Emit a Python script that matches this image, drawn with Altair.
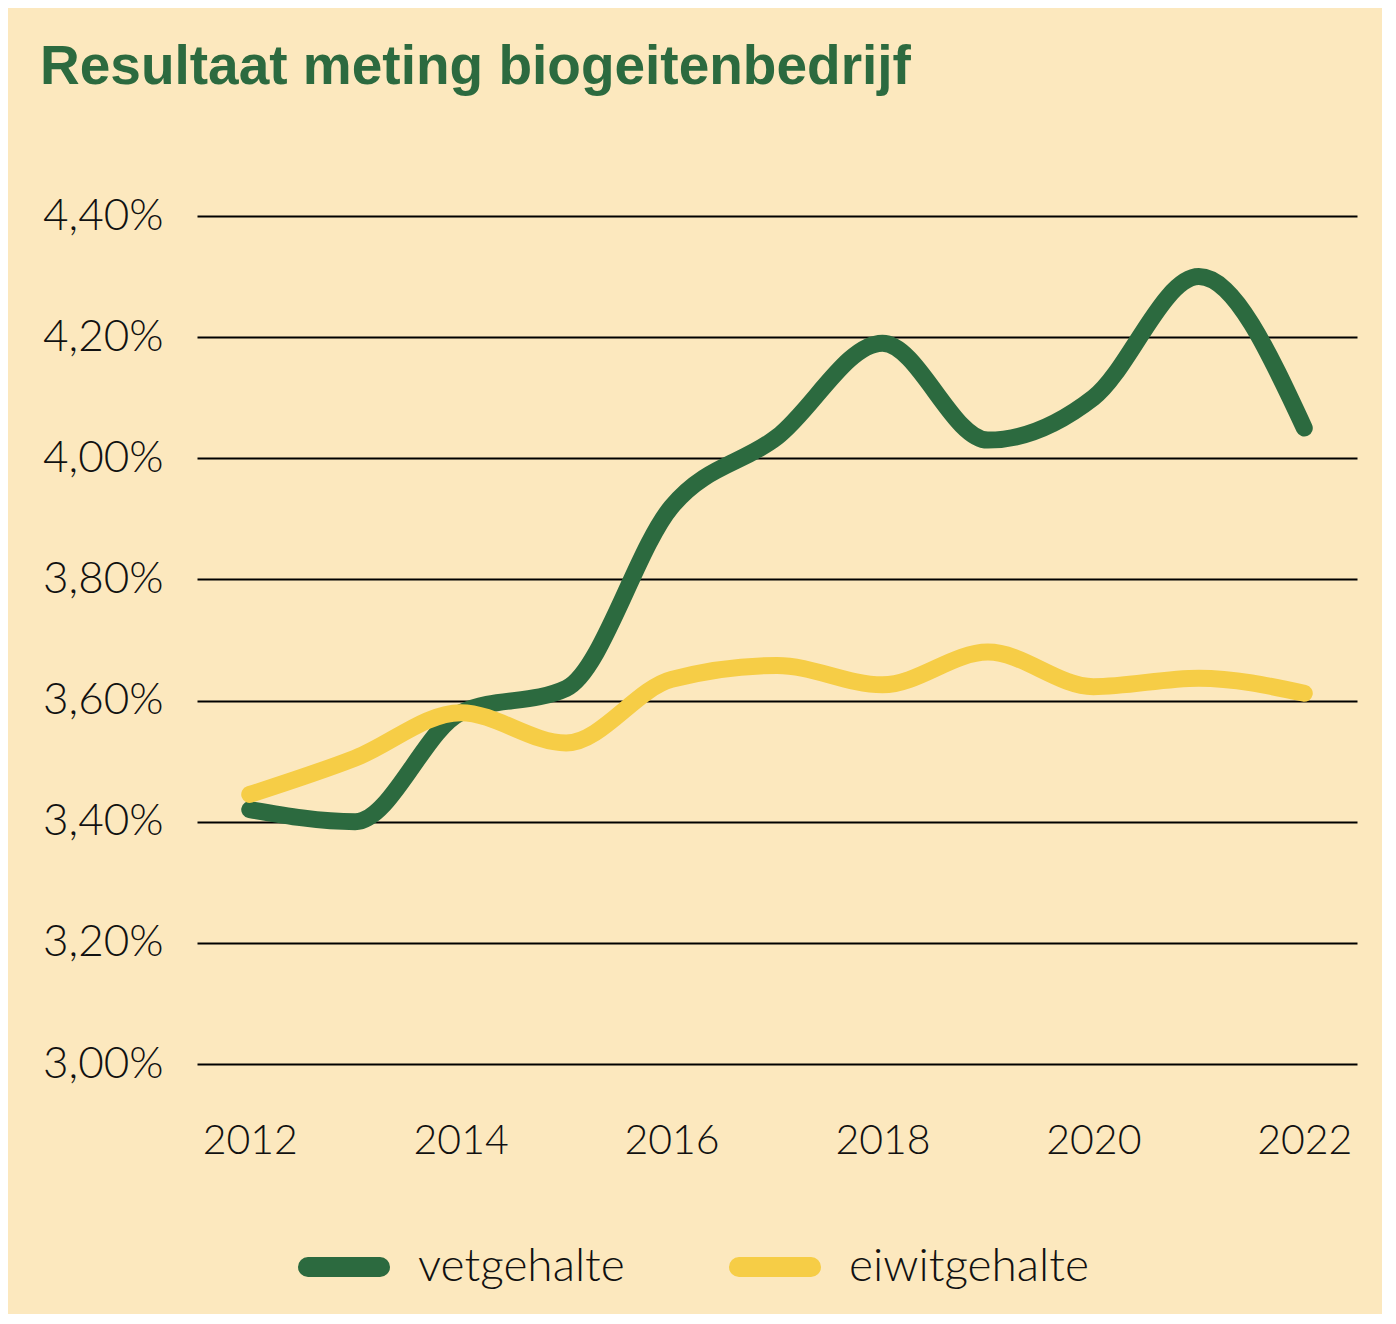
import altair as alt
import pandas as pd

years = [2012, 2013, 2014, 2015, 2016, 2017, 2018, 2019, 2020, 2021, 2022]
vetgehalte = [3.42, 3.40, 3.58, 3.62, 3.92, 4.035, 4.19, 4.03, 4.10, 4.30, 4.05]
eiwitgehalte = [3.445, 3.505, 3.58, 3.53, 3.635, 3.658, 3.626, 3.68, 3.623, 3.637, 3.612]
series_names = ["vetgehalte", "eiwitgehalte"]
series_colors = ["#2C6A3F", "#F6CD46"]
y_ticks = [3.0, 3.2, 3.4, 3.6, 3.8, 4.0, 4.2, 4.4]
x_ticks = [2012, 2014, 2016, 2018, 2020, 2022]

rows = []
for name, vals in zip(series_names, [vetgehalte, eiwitgehalte]):
    for yr, v in zip(years, vals):
        rows.append({"jaar": yr, "waarde": v, "reeks": name, "order": series_names.index(name)})
df = pd.DataFrame(rows)

BG = "#FCE8BE"
FONT = "Lato"

# thin stadium outline; stroked thickly it reads as a rounded pill
PILL = ("M -0.973,-0.027 L 0.973,-0.027 A 0.027,0.027 0 0 1 0.973,0.027 "
        "L -0.973,0.027 A 0.027,0.027 0 0 1 -0.973,-0.027 Z")

chart = alt.Chart(df).mark_line(
    strokeWidth=17, strokeCap="round", strokeJoin="round", interpolate="monotone"
).encode(
    x=alt.X("jaar:Q",
            scale=alt.Scale(domain=[2011.5, 2022.5], nice=False, zero=False),
            axis=alt.Axis(values=x_ticks, format="d", title=None, grid=False,
                          domain=False, ticks=False, labelPadding=57,
                          labelFontSize=41, labelFont=FONT, labelFontWeight=300,
                          labelColor="#111111", labelFlush=False)),
    y=alt.Y("waarde:Q",
            scale=alt.Scale(domain=[3.0, 4.4], nice=False, zero=False),
            axis=alt.Axis(values=y_ticks, title=None, grid=True, gridColor="#000000",
                          gridWidth=2, gridOpacity=1, domain=False, ticks=False,
                          labelPadding=34, labelFontSize=44, labelFont=FONT,
                          labelFontWeight=300, labelColor="#111111",
                          labelExpr="replace(format(datum.value, '.2f'), '.', ',') + '%'")),
    color=alt.Color("reeks:N",
                    scale=alt.Scale(domain=series_names, range=series_colors),
                    legend=alt.Legend(title=None, orient="none", direction="horizontal",
                                      legendX=101, legendY=1005, padding=0,
                                      symbolType=PILL, symbolStrokeWidth=18,
                                      symbolSize=74 * 74,
                                      labelFontSize=46, labelFont=FONT,
                                      labelFontWeight=300, labelColor="#111111",
                                      labelOffset=28, columnPadding=77,
                                      labelLimit=400)),
    order=alt.Order("order:Q"),
).properties(
    width=1160,
    height=848,
    background=BG,
    padding={"left": 189, "top": 208, "right": 25, "bottom": 250},
    autosize=alt.AutoSizeParams(type="none"),
    title=alt.TitleParams(
        text="Resultaat meting biogeitenbedrijf",
        anchor="start", frame="group", dx=-157, offset=98,
        fontSize=55, font="Liberation Sans", fontWeight="bold", color="#2C6A3F",
    ),
).configure_view(stroke=None)

chart.save("out.html", embed_options={"renderer": "svg", "actions": False})
